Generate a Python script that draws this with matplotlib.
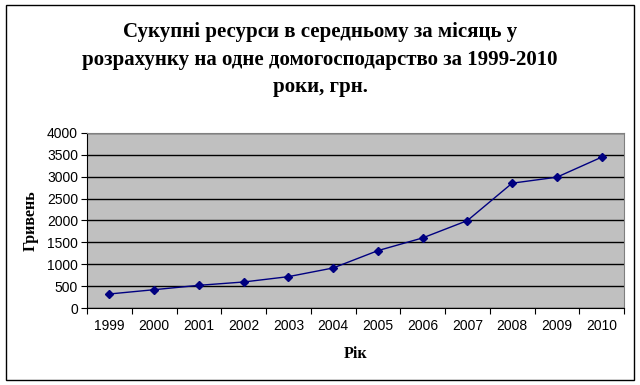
import matplotlib.pyplot as plt
from matplotlib.patches import Rectangle

# data
years = ["1999", "2000", "2001", "2002", "2003", "2004",
         "2005", "2006", "2007", "2008", "2009", "2010"]
values = [320, 418, 518, 594, 716, 914, 1310, 1600, 1996, 2850, 2987, 3444]
y_ticks = [0, 500, 1000, 1500, 2000, 2500, 3000, 3500, 4000]

title = "Сукупні ресурси в середньому за місяць у\nрозрахунку на одне домогосподарство за 1999-2010\nроки, грн."

fig = plt.figure(figsize=(6.4, 3.85), dpi=100)
ax = fig.add_axes([0.136, 0.2, 0.839, 0.455])

x = list(range(len(years)))
ax.set_facecolor("#c0c0c0")
ax.yaxis.grid(True, color="black", linewidth=1.0)
ax.set_axisbelow(True)
ax.plot(x, values, color="#000080", linewidth=1.0, marker="D", markersize=4,
        markerfacecolor="#000080", markeredgecolor="#000080", zorder=3)

ax.set_xlim(-0.5, len(years) - 0.5)
ax.set_ylim(0, 4000)
ax.set_yticks(y_ticks)
ax.set_yticklabels([str(v) for v in y_ticks], fontsize=10, family="Liberation Sans")

# excel-style category axis: ticks between categories
ax.set_xticks([i - 0.5 for i in range(len(years) + 1)])
ax.set_xticklabels([])
ax.set_xticks(x, minor=True)
ax.set_xticklabels(years, minor=True, fontsize=10, family="Liberation Sans")
ax.tick_params(axis="x", which="minor", length=0, pad=8)
ax.tick_params(axis="x", which="major", length=4.5, direction="out", width=0.8)
ax.tick_params(axis="y", length=4.5, direction="out", width=0.8, pad=2)

for side in ["top", "right"]:
    ax.spines[side].set_color("#808080")
for side in ["left", "bottom"]:
    ax.spines[side].set_color("black")

ax.set_xlabel("Рік", fontsize=11.5, fontweight="bold", family="Liberation Serif", labelpad=9)
ax.set_ylabel("Гривень", fontsize=11.5, fontweight="bold", family="Liberation Serif", labelpad=6)

fig.text(0.5, 0.845, title, ha="center", va="center", fontsize=15, fontweight="bold",
         family="Liberation Serif", linespacing=1.5)

# outer frame of the chart
fig.patches.append(Rectangle((0.009, 0.013), 0.982, 0.974, transform=fig.transFigure,
                             fill=False, edgecolor="black", linewidth=1.0))

fig.savefig("out.png", dpi=100)
